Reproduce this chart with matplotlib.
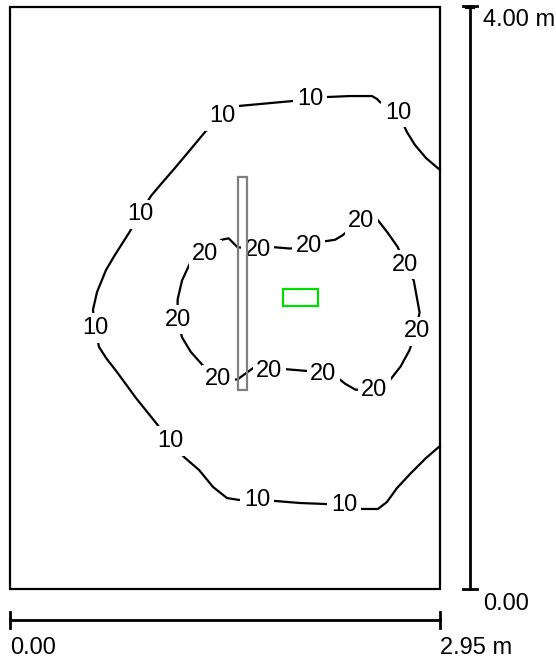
import matplotlib.pyplot as plt
from matplotlib.patches import Rectangle

plt.rcParams['font.family'] = ['Liberation Sans', 'DejaVu Sans']

room_w = 2.95
room_h = 4.00

# isolux line 10 (m), open, both ends on right wall
iso10_x = [2.95, 2.854, 2.778, 2.723, 2.662, 2.538, 2.518, 2.483, 2.332, 2.168, 2.058, 1.941,
           1.571, 1.454, 1.338, 1.235, 1.132, 1.036, 0.967, 0.892, 0.816, 0.720, 0.659, 0.597,
           0.569, 0.583, 0.611, 0.659, 0.734, 0.864, 1.002, 1.098, 1.194, 1.297, 1.393, 1.489,
           1.571, 1.694, 1.818, 1.989, 2.168, 2.291, 2.415, 2.524, 2.586, 2.655, 2.751, 2.854,
           2.95]
iso10_y = [2.880, 2.962, 3.052, 3.141, 3.272, 3.347, 3.368, 3.388, 3.388, 3.381, 3.368, 3.354,
           3.320, 3.251, 3.141, 3.017, 2.894, 2.783, 2.701, 2.577, 2.447, 2.296, 2.193, 2.041,
           1.918, 1.794, 1.663, 1.588, 1.491, 1.313, 1.141, 1.017, 0.907, 0.818, 0.701, 0.625,
           0.612, 0.612, 0.605, 0.591, 0.584, 0.577, 0.550, 0.550, 0.598, 0.694, 0.797, 0.900,
           0.983]
iso10_lbl_x = [1.454, 2.058, 2.662, 0.892, 0.583, 1.098, 1.694, 2.291]
iso10_lbl_y = [3.251, 3.368, 3.272, 2.577, 1.794, 1.017, 0.612, 0.577]

# isolux line 20 (m), closed
iso20_x = [1.34, 1.45, 1.50, 1.56, 1.69, 1.80, 1.92, 2.04, 2.16, 2.23, 2.28, 2.39, 2.52,
           2.59, 2.66, 2.71, 2.77, 2.79, 2.81, 2.78, 2.74, 2.68, 2.61, 2.49, 2.37, 2.30,
           2.25, 2.14, 2.02, 1.90, 1.78, 1.67, 1.56, 1.43, 1.32, 1.24, 1.18, 1.15, 1.15,
           1.18, 1.24, 1.34]
iso20_y = [2.30, 2.40, 2.41, 2.35, 2.33, 2.35, 2.34, 2.35, 2.39, 2.40, 2.43, 2.52, 2.54,
           2.45, 2.35, 2.23, 2.12, 2.01, 1.90, 1.76, 1.64, 1.53, 1.44, 1.37, 1.37, 1.41,
           1.45, 1.49, 1.50, 1.51, 1.51, 1.52, 1.44, 1.44, 1.54, 1.63, 1.73, 1.85, 1.99,
           2.12, 2.25, 2.30]
iso20_lbl_x = [1.34, 1.70, 2.05, 2.41, 2.71, 2.79, 2.50, 2.15, 1.78, 1.43, 1.15]
iso20_lbl_y = [2.30, 2.33, 2.36, 2.53, 2.23, 1.77, 1.37, 1.48, 1.50, 1.44, 1.85]

# luminaire and calculation point (m)
lum_x, lum_y, lum_w, lum_h = 1.564, 1.368, 0.062, 1.464
pt_x, pt_y, pt_w, pt_h = 1.873, 1.945, 0.240, 0.117

fig = plt.figure(figsize=(5.56, 6.59), dpi=100)
ax = fig.add_axes([10/556, 70/659, 430/556, 582/659])
ax.set_xlim(0, room_w)
ax.set_ylim(0, room_h)
ax.axis('off')

ax.add_patch(Rectangle((0, 0), room_w, room_h, fill=False, lw=1.6, ec='black', clip_on=False, zorder=1))

ax.plot(iso10_x, iso10_y, color='black', lw=1.6, zorder=2, clip_on=False, solid_joinstyle='round')
ax.plot(iso20_x, iso20_y, color='black', lw=1.6, zorder=2, clip_on=False, solid_joinstyle='round')

lbl = dict(ha='center', va='center', fontsize=17, zorder=3,
           bbox=dict(boxstyle='square,pad=0.15', fc='white', ec='none'))
for x, y in zip(iso10_lbl_x, iso10_lbl_y):
    ax.text(x, y, '10', **lbl)
for x, y in zip(iso20_lbl_x, iso20_lbl_y):
    ax.text(x, y, '20', **lbl)

ax.add_patch(Rectangle((lum_x, lum_y), lum_w, lum_h, fill=False, lw=1.6, ec='#808080', zorder=4))
ax.add_patch(Rectangle((pt_x, pt_y), pt_w, pt_h, fill=False, lw=1.6, ec='#00dd00', zorder=4))

# scale bars
hb_y = -0.213
ax.plot([0, room_w], [hb_y, hb_y], color='black', lw=2, clip_on=False)
for x in [0, room_w]:
    ax.plot([x, x], [hb_y - 0.055, hb_y + 0.055], color='black', lw=2, clip_on=False)
vb_x = 3.156
ax.plot([vb_x, vb_x], [0, room_h + 0.01], color='black', lw=2, clip_on=False)
for y in [0, room_h + 0.01]:
    ax.plot([vb_x - 0.048, vb_x + 0.048], [y, y], color='black', lw=2, clip_on=False)
ax.plot([vb_x - 0.025, vb_x + 0.025], [room_h - 0.01, room_h - 0.01], color='black', lw=1.5, clip_on=False)

ax.text(0, -0.33, '0.00', ha='left', va='top', fontsize=17, clip_on=False)
ax.text(room_w, -0.33, '2.95 m', ha='left', va='top', fontsize=17, clip_on=False)
ax.text(3.245, 3.91, '4.00 m', ha='left', va='center', fontsize=17, clip_on=False)
ax.text(3.245, -0.10, '0.00', ha='left', va='center', fontsize=17, clip_on=False)

fig.savefig('out.png', dpi=100)
